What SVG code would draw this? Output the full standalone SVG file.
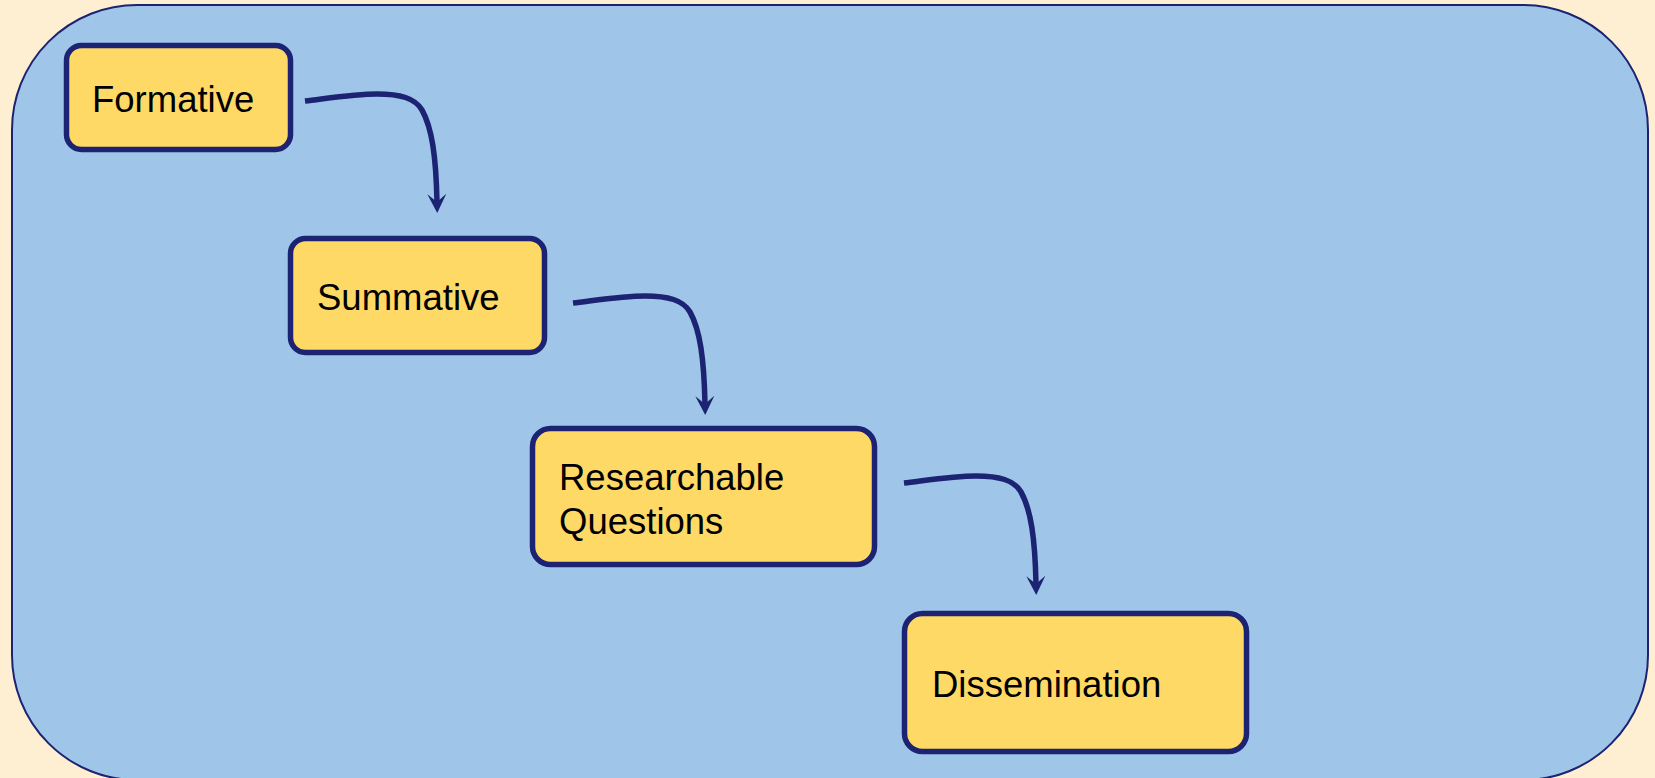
<svg xmlns="http://www.w3.org/2000/svg" width="1655" height="778" viewBox="0 0 1655 778">
  <defs>
    <style>
      .frame { fill: #9fc5e8; stroke: #1c2372; stroke-width: 2; }
      .box { fill: #ffd966; stroke: #1c2372; stroke-width: 5.5; }
      .label { font-family: "Liberation Sans", Arial, sans-serif; font-size: 36.5px; fill: #000000; }
      .link { fill: none; stroke: #1c2372; stroke-width: 5.5; }
    </style>
    <!-- arrowhead: notch sits on the path end, tip 11px beyond it -->
    <marker id="head" markerUnits="userSpaceOnUse" viewBox="-12 -12 26 24" refX="0" refY="0" markerWidth="26" markerHeight="24" orient="auto">
      <path d="M11,0 L-8,-9.5 L0,0 L-8,9.5 Z" fill="#1c2372"/>
    </marker>
    <!-- shared elbow curve, drawn relative to its start point -->
    <path id="elbow" d="M0,0 C25,-3 50,-7 72,-7 C95,-7 110,-3 117,9 C127,27 131,55 132,101"/>
  </defs>

  <!-- page background -->
  <rect x="0" y="0" width="1655" height="778" fill="#ffefd2"/>

  <!-- rounded panel -->
  <rect class="frame" x="12" y="5" width="1636" height="775" rx="125" ry="125"/>

  <!-- connectors -->
  <g id="connectors">
    <use href="#elbow" class="link" x="305" y="101" marker-end="url(#head)"/>
    <use href="#elbow" class="link" x="573" y="303" marker-end="url(#head)"/>
    <use href="#elbow" class="link" x="904" y="483" marker-end="url(#head)"/>
  </g>

  <g id="formative">
    <rect class="box" x="66.5" y="45.5" width="224" height="104" rx="15" ry="15"/>
    <text class="label" x="92" y="112">Formative</text>
  </g>

  <g id="summative">
    <rect class="box" x="290.5" y="238.5" width="254" height="114" rx="15" ry="15"/>
    <text class="label" x="317" y="310">Summative</text>
  </g>

  <g id="researchable-questions">
    <rect class="box" x="532.5" y="428.5" width="342" height="136" rx="18" ry="18"/>
    <text class="label" x="559" y="490">Researchable</text>
    <text class="label" x="559" y="534">Questions</text>
  </g>

  <g id="dissemination">
    <rect class="box" x="904.5" y="613.5" width="342" height="138" rx="18" ry="18"/>
    <text class="label" x="932" y="697">Dissemination</text>
  </g>
</svg>
